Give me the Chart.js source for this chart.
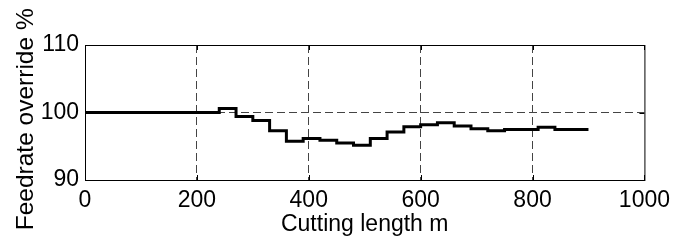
<!DOCTYPE html>
<html>
<head>
<meta charset="utf-8">
<script src="https://cdn.jsdelivr.net/npm/chart.js@4"></script>
<style>
  body { margin: 0; background: #fff; }
</style>
</head>
<body>
<canvas id="overrideChart" width="677" height="242"></canvas>
<script>
// step start positions (m) and the override value held from each one
const stepStarts = [0, 240, 270, 300, 330, 360, 390, 420, 450, 480, 510, 540,
    570, 600, 630, 660, 690, 720, 750, 780, 810, 840, 870, 900];
const overrideValues = [100, 100.6, 99.4, 98.8, 97.3, 95.75, 96.15, 95.9, 95.5,
    95.15, 96.15, 97.1, 97.9, 98.2, 98.5, 98.0, 97.6, 97.3, 97.5, 97.5, 97.8,
    97.5, 97.5, 97.5];
const xTicks = [0, 200, 400, 600, 800, 1000];
const yTicks = [90, 100, 110];

const points = stepStarts.map((x, i) => ({ x: x, y: overrideValues[i] }));

const font = { family: "'Liberation Sans', Arial, sans-serif", size: 23 };
const yTitleFont = { family: "'Liberation Sans', Arial, sans-serif", size: 24.5 };

// box round the plot and small inward ticks, matlab style
const frame = {
    id: "frame",
    afterDraw(chart) {
        const c = chart.ctx;
        const a = chart.chartArea;
        const xs = chart.scales.x;
        const ys = chart.scales.y;
        c.save();
        c.strokeStyle = "#000";
        c.lineWidth = 1;
        c.strokeRect(a.left + 0.5, a.top + 0.5, a.right - a.left, a.bottom - a.top);
        c.beginPath();
        xTicks.forEach(v => {
            const px = Math.round(xs.getPixelForValue(v)) + 0.5;
            c.moveTo(px, a.bottom); c.lineTo(px, a.bottom - 5);
            c.moveTo(px, a.top); c.lineTo(px, a.top + 5);
        });
        yTicks.forEach(v => {
            const py = Math.round(ys.getPixelForValue(v)) + 0.5;
            c.moveTo(a.left, py); c.lineTo(a.left + 5, py);
            c.moveTo(a.right, py); c.lineTo(a.right - 5, py);
        });
        c.stroke();
        c.restore();
    }
};

const gridColor = (lo, hi) => ctx =>
    (ctx.tick && (ctx.tick.value === lo || ctx.tick.value === hi)) ? "rgba(0,0,0,0)" : "#444";

new Chart(document.getElementById("overrideChart"), {
    type: "line",
    data: {
        datasets: [{
            data: points,
            stepped: true,
            borderColor: "#000",
            borderWidth: 3,
            pointRadius: 0,
            fill: false
        }]
    },
    options: {
        responsive: false,
        animation: false,
        devicePixelRatio: 1,
        layout: { padding: { left: 0, right: 30, top: 45, bottom: 0 } },
        plugins: { legend: { display: false }, tooltip: { enabled: false } },
        scales: {
            x: {
                type: "linear",
                min: 0,
                max: 1000,
                afterBuildTicks: s => { s.ticks = xTicks.map(v => ({ value: v })); },
                afterFit: s => { s.height = 62; },
                ticks: { color: "#000", font: font, padding: 7, maxRotation: 0,
                    callback: v => String(v) },
                grid: { color: gridColor(0, 1000), lineWidth: 1, drawTicks: false },
                border: { display: false, dash: [8, 4] },
                title: { display: true, text: "Cutting length m", color: "#000", font: font,
                    padding: { top: 0, bottom: 4 } }
            },
            y: {
                min: 90,
                max: 110,
                afterBuildTicks: s => { s.ticks = yTicks.map(v => ({ value: v })); },
                afterFit: s => { s.width = 85; },
                ticks: { color: "#000", font: font, padding: 6, callback: v => String(v) },
                grid: { color: gridColor(90, 110), lineWidth: 1, drawTicks: false },
                border: { display: false, dash: [8, 4] },
                title: { display: true, text: "Feedrate override %  ", color: "#000",
                    font: yTitleFont, padding: { top: 12, bottom: 0 } }
            }
        }
    },
    plugins: [frame]
});
</script>
</body>
</html>
